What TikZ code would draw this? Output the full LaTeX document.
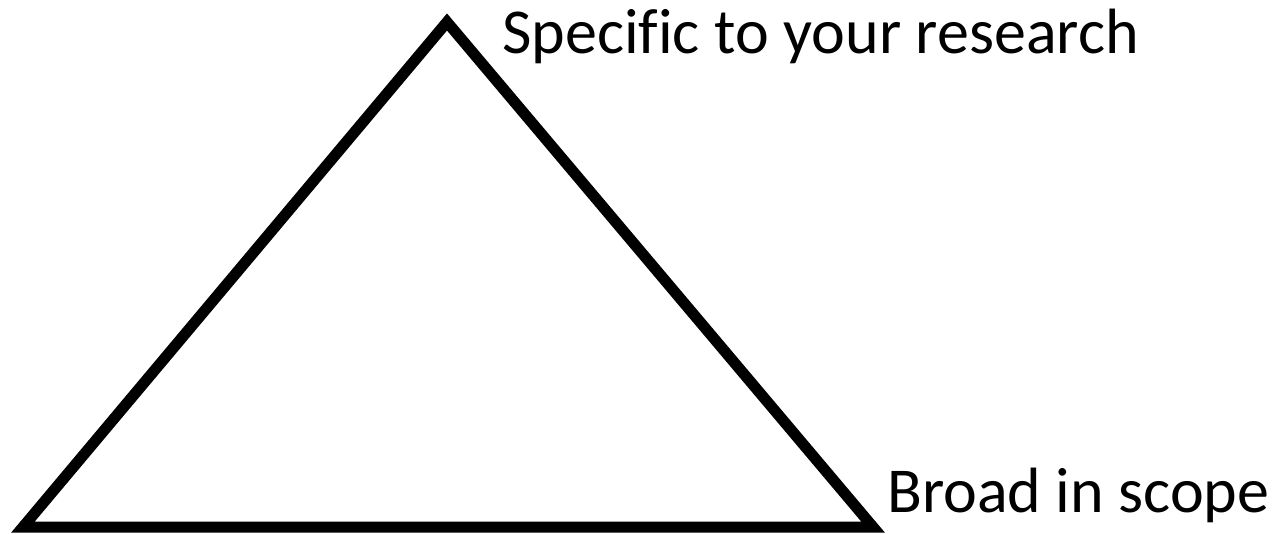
\documentclass[tikz,border=0pt]{standalone}
\usepackage{fontspec}
\setmainfont[Ligatures=NoCommon]{Carlito}
\begin{document}
\begin{tikzpicture}[x=1pt,y=-1pt,
  tri/.style={draw=black,line width=11pt,miter limit=10},
  lbl/.style={anchor=base west,inner sep=0pt,font=\fontsize{64}{70}\selectfont}]
\useasboundingbox (0,0) rectangle (1276,533);
\coordinate (apex) at (447,22);
\coordinate (bl) at (23,527);
\coordinate (br) at (873,527);
\draw[tri] (apex) -- (br) -- (bl) -- cycle;
\node[lbl] (top) at (502,53) {Specific to your research};
\node[lbl] (bottom) at (887,512) {Broad in scope};
\end{tikzpicture}
\end{document}
